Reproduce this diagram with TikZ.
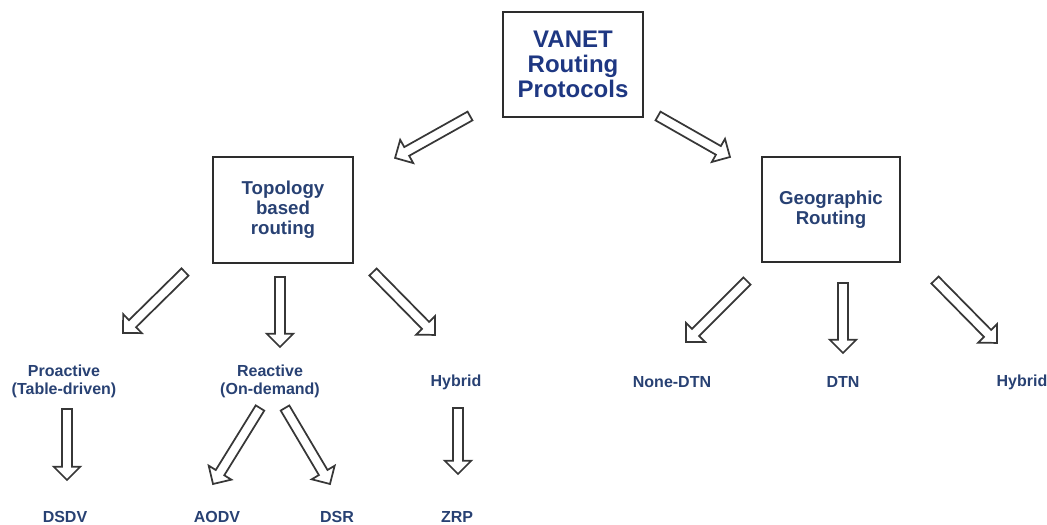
\documentclass[tikz,border=0pt]{standalone}
\usepackage{fontspec}
\setmainfont{Liberation Sans}
\usetikzlibrary{calc}
\definecolor{navytext}{RGB}{40,65,115}
\definecolor{vanetblue}{RGB}{30,55,130}
\definecolor{boxline}{RGB}{45,45,45}
\definecolor{arrowgray}{RGB}{55,55,55}

% hollow block arrow from #1 to #2
\newcommand{\hollowarrow}[2]{%
  \coordinate (ha) at #1;
  \coordinate (hb) at #2;
  \draw [arrowline] let \p1=($(hb)-(ha)$), \n1={atan2(\y1,\x1)}, \n2={veclen(\x1,\y1)} in
    [shift={(ha)}, rotate=\n1]
    (0pt,-3.75pt) -- ({\n2*1pt-10pt},-3.75pt) -- ({\n2*1pt-10pt},-10pt) -- ({\n2*1pt},0pt)
    -- ({\n2*1pt-10pt},10pt) -- ({\n2*1pt-10pt},3.75pt) -- (0pt,3.75pt) -- cycle ;
}

\begin{document}
\begin{tikzpicture}[x=0.75pt,y=-0.75pt,
    mainbox/.style={draw=boxline, line width=1.5pt, align=center, inner sep=0pt},
    boxtext/.style={font=\bfseries\fontsize{14}{15}\selectfont, text=navytext},
    leaf/.style={align=center, inner sep=1pt, font=\bfseries\fontsize{12}{13.5}\selectfont, text=navytext},
    arrowline/.style={draw=arrowgray, line width=1.3pt, fill=white, line join=miter}]
    \useasboundingbox (0,0) rectangle (1047,525);

    %Shape: Rectangle [root]
    \node [mainbox, minimum width=105pt, minimum height=78.75pt, font=\bfseries\fontsize{18}{19}\selectfont, text=vanetblue] (vanet) at (573,64.5) {VANET\\Routing\\Protocols};
    %Shape: Rectangle [topology]
    \node [mainbox, boxtext, minimum width=105pt, minimum height=79.5pt] (topo) at (283,210) {Topology\\based\\routing};
    %Shape: Rectangle [geographic]
    \node [mainbox, boxtext, minimum width=103.5pt, minimum height=78.75pt] (geo) at (831,209.5) {Geographic\\Routing};

    % Text Node
    \node [leaf] (pro) at (64,381) {Proactive\\(Table-driven)};
    % Text Node
    \node [leaf] (rea) at (270,381) {Reactive\\(On-demand)};
    % Text Node
    \node [leaf] (hyb) at (456,382) {Hybrid};
    % Text Node
    \node [leaf] (none) at (672,382) {None-DTN};
    % Text Node
    \node [leaf] (dtn) at (843,382) {DTN};
    % Text Node
    \node [leaf] (hybgeo) at (1022,382) {Hybrid};
    % Text Node
    \node [leaf] (dsdv) at (65,517) {DSDV};
    % Text Node
    \node [leaf] (aodv) at (217,517) {AODV};
    % Text Node
    \node [leaf] (dsr) at (337,517) {DSR};
    % Text Node
    \node [leaf] (zrp) at (457,517) {ZRP};

    %Block Arrows [first level]
    \hollowarrow{($(vanet)+(-103,51.5)$)}{($(topo)+(112,-52)$)}
    \hollowarrow{($(vanet)+(85,51.5)$)}{($(geo)+(-101,-52.5)$)}
    %Block Arrows [topology]
    \hollowarrow{($(topo)+(-98,62)$)}{($(pro)+(59,-48)$)}
    \hollowarrow{($(topo)+(-3,67)$)}{($(rea)+(10,-34)$)}
    \hollowarrow{($(topo)+(90,62)$)}{($(hyb)+(-21,-47)$)}
    %Block Arrows [geographic]
    \hollowarrow{($(geo)+(-84,71.5)$)}{($(none)+(14,-40)$)}
    \hollowarrow{($(geo)+(12,73.5)$)}{($(dtn)+(0,-29)$)}
    \hollowarrow{($(geo)+(104,70.5)$)}{($(hybgeo)+(-25,-39)$)}
    %Block Arrows [protocols]
    \hollowarrow{($(pro)+(3,28)$)}{($(dsdv)+(2,-37)$)}
    \hollowarrow{($(rea)+(-10,27)$)}{($(aodv)+(-4,-33)$)}
    \hollowarrow{($(rea)+(15,27)$)}{($(dsr)+(-7,-33)$)}
    \hollowarrow{($(hyb)+(2,26)$)}{($(zrp)+(1,-43)$)}
\end{tikzpicture}
\end{document}
